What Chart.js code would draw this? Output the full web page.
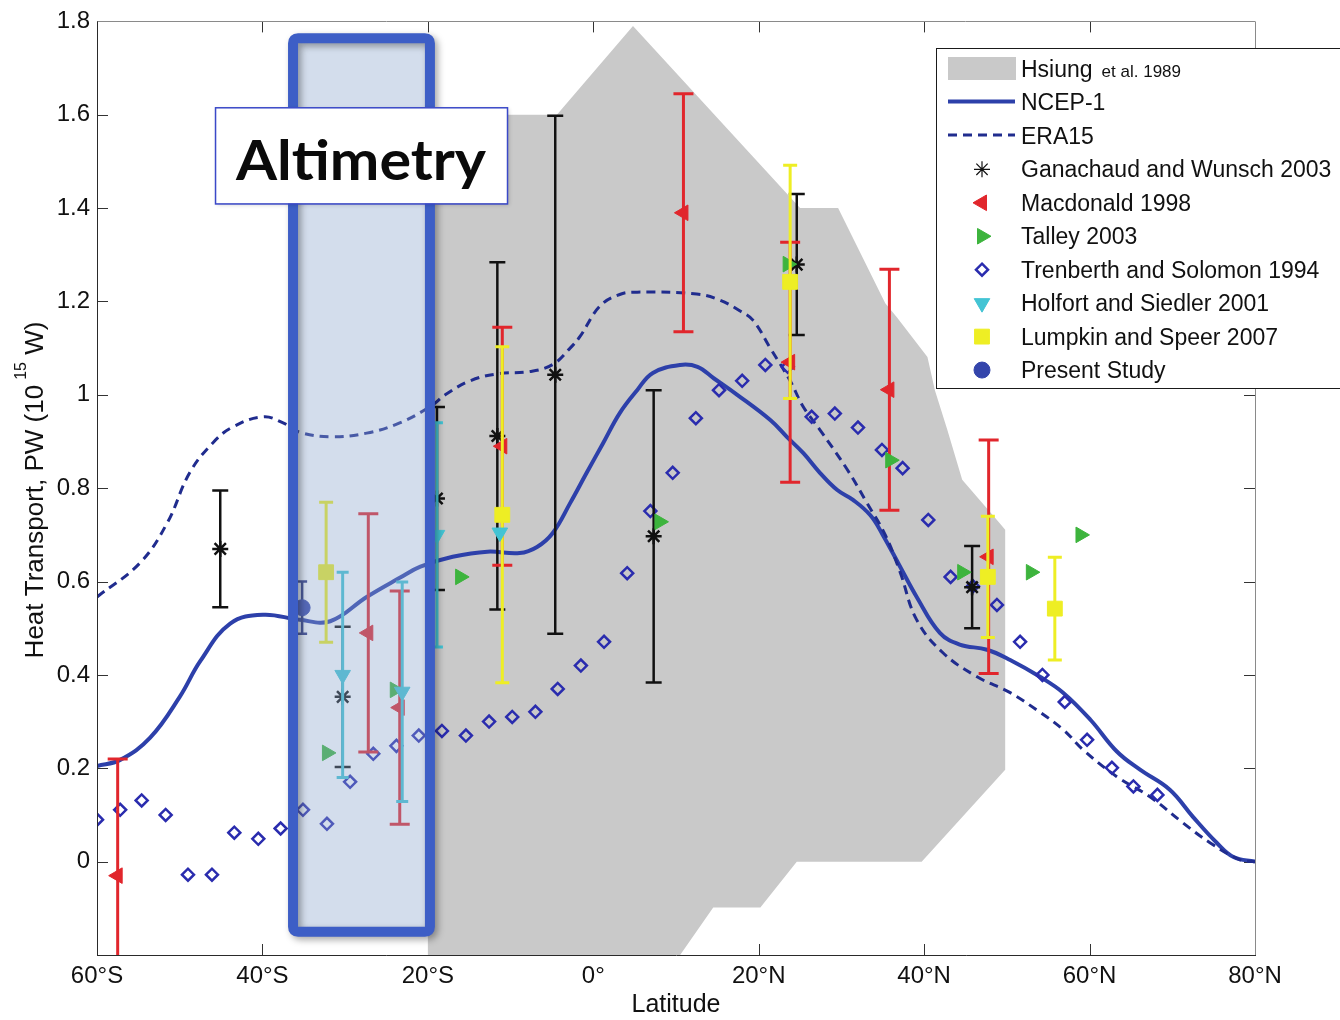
<!DOCTYPE html>
<html lang="en">
<head>
<meta charset="utf-8">
<title>Meridional heat transport</title>
<script src="https://cdn.jsdelivr.net/npm/chart.js@4.4.1/dist/chart.umd.min.js"></script>
<style>
  html, body { margin: 0; padding: 0; background: #ffffff; }
  #wrap { width: 1340px; height: 1020px; }
  canvas { display: block; }
</style>
</head>
<body>
<div id="wrap"><canvas id="heat" width="1340" height="1020"></canvas></div>
<script>
const FONT = '"Liberation Sans", Arial, Helvetica, sans-serif';

// ---- axis ticks ----
const xTickValues = [-60, -40, -20, 0, 20, 40, 60, 80];
const xTickLabels = ['60°S', '40°S', '20°S', '0°', '20°N', '40°N', '60°N', '80°N'];
const yTickValues = [0, 0.2, 0.4, 0.6, 0.8, 1, 1.2, 1.4, 1.6, 1.8];

// ---- Hsiung et al. 1989 envelope (outline, latitude / PW) ----
const hsiungLat = [-20, -20, -4.4, 4.8, 25.0, 29.6, 35.3, 36.7, 40.4, 41.3, 42.8, 44.6, 46.4, 48.8, 49.8, 49.8, 39.7, 24.6, 20.2, 14.5, 10.5];
const hsiungPW  = [-0.2, 1.6, 1.6, 1.79, 1.40, 1.40, 1.196, 1.166, 1.081, 1.01, 0.925, 0.818, 0.781, 0.732, 0.711, 0.197, 0.0, 0.0, -0.098, -0.098, -0.2];

// ---- NCEP-1 ----
const ncepLat = [-60, -57.2, -53.6, -50.0, -47.5, -43.9, -39.9, -35.5, -31.8, -27.4, -23.4, -20.9, -17.0, -12.8, -8.9, -6.8, -4.9, -2.8, -0.8, 1.2, 3.2, 5.3, 7.2, 10.5, 12.6, 14.6, 17.4, 21.4, 23.4, 25.4, 27.4, 29.5, 31.4, 33.5, 35.0, 37.0, 39.1, 41.9, 44.3, 47.6, 50.4, 54.0, 56.8, 60.1, 63.3, 66.1, 69.7, 72.5, 75.4, 77.4, 80];
const ncepPW  = [0.205, 0.218, 0.265, 0.353, 0.43, 0.51, 0.529, 0.518, 0.515, 0.567, 0.608, 0.632, 0.653, 0.664, 0.661, 0.674, 0.704, 0.768, 0.833, 0.897, 0.961, 1.01, 1.047, 1.064, 1.06, 1.035, 1.0, 0.946, 0.91, 0.875, 0.833, 0.796, 0.775, 0.742, 0.70, 0.635, 0.567, 0.49, 0.465, 0.454, 0.432, 0.396, 0.362, 0.304, 0.236, 0.197, 0.154, 0.096, 0.04, 0.01, 0.0];

// ---- ERA15 ----
const eraLat = [-60, -54.8, -51.5, -48.8, -46.0, -43.6, -39.9, -37.5, -35.5, -31.8, -27.4, -23.4, -19.7, -17.9, -14.9, -11.6, -7.6, -4.9, -2.8, -1.6, 0.8, 3.2, 5.3, 12.5, 15.3, 17.7, 19.3, 21.4, 23.8, 25.4, 27.4, 30.7, 33.1, 35.3, 37.1, 39.1, 42.3, 46.4, 50.4, 53.6, 56.8, 59.2, 63.3, 67.3, 71.3, 74.6, 78.2, 80];
const eraPW  = [0.567, 0.64, 0.726, 0.833, 0.897, 0.931, 0.953, 0.94, 0.92, 0.91, 0.918, 0.94, 0.975, 1.0, 1.03, 1.045, 1.05, 1.065, 1.10, 1.125, 1.19, 1.215, 1.22, 1.216, 1.203, 1.18, 1.16, 1.10, 1.03, 0.974, 0.925, 0.84, 0.768, 0.70, 0.62, 0.518, 0.447, 0.396, 0.362, 0.325, 0.283, 0.24, 0.182, 0.139, 0.083, 0.04, 0.004, 0];

// ---- Trenberth and Solomon 1994 ----
const trenberthLat = [-60.0, -57.2, -54.6, -51.7, -49.0, -46.1, -43.4, -40.5, -37.8, -35.1, -32.2, -29.4, -26.6, -23.8, -21.1, -18.3, -15.4, -12.6, -9.8, -7.0, -4.3, -1.5, 1.3, 4.1, 6.9, 9.6, 12.4, 15.2, 18.0, 20.8, 23.5, 26.4, 29.2, 32.0, 34.9, 37.4, 40.5, 43.2, 45.9, 48.8, 51.6, 54.3, 57.0, 59.7, 62.7, 65.3, 68.2];
const trenberthPW  = [0.09, 0.111, 0.131, 0.10, -0.028, -0.028, 0.062, 0.049, 0.071, 0.111, 0.081, 0.171, 0.231, 0.248, 0.27, 0.28, 0.27, 0.30, 0.31, 0.321, 0.37, 0.42, 0.471, 0.618, 0.751, 0.833, 0.95, 1.01, 1.03, 1.064, 1.06, 0.953, 0.96, 0.93, 0.882, 0.843, 0.732, 0.61, 0.59, 0.55, 0.471, 0.40, 0.342, 0.261, 0.201, 0.161, 0.143];

// ---- Ganachaud and Wunsch 2003 (value, ± error) ----
const ganachaudLat = [-45.1, -30.3, -18.9, -11.6, -4.6, 7.3, 24.6, 45.8];
const ganachaudPW  = [0.670, 0.353, 0.778, 0.912, 1.043, 0.697, 1.279, 0.588];
const ganachaudErr = [0.125, 0.150, 0.196, 0.372, 0.555, 0.313, 0.151, 0.088];

// ---- Macdonald 1998 ----
const macdonaldLat = [-57.5, -27.2, -23.4, -11.0, 10.9, 23.8, 35.8, 47.8];
const macdonaldPW  = [-0.03, 0.49, 0.33, 0.89, 1.39, 1.07, 1.011, 0.653];
const macdonaldErr = [0.25, 0.255, 0.25, 0.255, 0.255, 0.257, 0.258, 0.25];

// ---- Talley 2003 ----
const talleyLat = [-32.2, -24.0, -16.1, 8.0, 23.5, 35.9, 44.6, 52.9, 58.9];
const talleyPW  = [0.233, 0.368, 0.61, 0.728, 1.28, 0.86, 0.62, 0.62, 0.70];

// ---- Holfort and Siedler 2001 ----
const holfortLat = [-30.3, -23.1, -18.9, -11.3];
const holfortPW  = [0.40, 0.364, 0.70, 0.705];
const holfortErr = [0.22, 0.235, 0.24, null];

// ---- Lumpkin and Speer 2007 ----
const lumpkinLat = [-32.3, -11.0, 23.8, 47.7, 55.8];
const lumpkinPW  = [0.62, 0.743, 1.242, 0.61, 0.542];
const lumpkinErr = [0.15, 0.36, 0.25, 0.13, 0.11];

// ---- Present Study ----
const presentLat = [-35.2];
const presentPW  = [0.544];
const presentErr = [0.056];

// ---- annotation regions (latitude / PW) ----
const altimetryFrame = { lat0: -36.3, lat1: -19.75, pw0: -0.150, pw1: 1.764 };
const altimetryLabel = { text: 'Altimetry', lat0: -45.73, lat1: -10.43, pw0: 1.41, pw1: 1.616 };

const COLORS = {
  hsiung: '#c9c9c9', ncep: '#2d40aa', era: '#202c8e', trenberth: '#2a2cae',
  ganachaud: '#111111', macdonald: '#e1262c', talley: '#3db43d', holfort: '#43c4d4',
  lumpkin: '#eeee24', present: '#3445ab', presentBar: '#27307f'
};

function pts(lat, pw) { return lat.map((v, i) => ({ x: v, y: pw[i] })); }

const datasets = [
  { label: 'Hsiung et al. 1989', data: pts(hsiungLat, hsiungPW), order: 20,
    showLine: true, fill: 'shape', tension: 0, backgroundColor: COLORS.hsiung, borderColor: COLORS.hsiung,
    borderWidth: 0, pointRadius: 0, legendKind: 'patch' },
  { label: 'NCEP-1', data: pts(ncepLat, ncepPW), order: 19,
    showLine: true, fill: false, tension: 0.4, borderColor: COLORS.ncep,
    borderWidth: 4, pointRadius: 0, legendKind: 'line' },
  { label: 'ERA15', data: pts(eraLat, eraPW), order: 18,
    showLine: true, fill: false, tension: 0.4, borderColor: COLORS.era,
    borderWidth: 3, borderDash: [9, 6], pointRadius: 0, legendKind: 'line' },
  { label: 'Trenberth and Solomon 1994', data: pts(trenberthLat, trenberthPW), order: 17,
    showLine: false, pointStyle: 'rectRot', pointRadius: 6, borderWidth: 2.5,
    borderColor: COLORS.trenberth, backgroundColor: 'rgba(255,255,255,0)' },
  { label: 'Ganachaud and Wunsch 2003', data: pts(ganachaudLat, ganachaudPW), order: 16,
    errorBars: ganachaudErr, capHalf: 8, errorWidth: 2.5, errorColor: COLORS.ganachaud,
    showLine: false, pointStyle: 'star', pointRadius: 8, borderWidth: 2.5,
    borderColor: COLORS.ganachaud, backgroundColor: COLORS.ganachaud, legendBorderWidth: 1.2 },
  { label: 'Macdonald 1998', data: pts(macdonaldLat, macdonaldPW), order: 15,
    errorBars: macdonaldErr, capHalf: 10, errorWidth: 3, errorColor: COLORS.macdonald,
    showLine: false, pointStyle: 'triangle', pointRotation: -90, pointRadius: 9, borderWidth: 1,
    borderColor: COLORS.macdonald, backgroundColor: COLORS.macdonald },
  { label: 'Talley 2003', data: pts(talleyLat, talleyPW), order: 14,
    showLine: false, pointStyle: 'triangle', pointRotation: 90, pointRadius: 9, borderWidth: 1,
    borderColor: COLORS.talley, backgroundColor: COLORS.talley },
  { label: 'Lumpkin and Speer 2007', data: pts(lumpkinLat, lumpkinPW), order: 13,
    errorBars: lumpkinErr, capHalf: 7, errorWidth: 3, errorColor: COLORS.lumpkin,
    showLine: false, pointStyle: 'rect', pointRadius: 10.5, borderWidth: 1,
    borderColor: COLORS.lumpkin, backgroundColor: COLORS.lumpkin },
  { label: 'Holfort and Siedler 2001', data: pts(holfortLat, holfortPW), order: 12,
    errorBars: holfortErr, capHalf: 6, errorWidth: 3, errorColor: COLORS.holfort,
    showLine: false, pointStyle: 'triangle', pointRotation: 180, pointRadius: 9, borderWidth: 1,
    borderColor: COLORS.holfort, backgroundColor: COLORS.holfort },
  { label: 'Present Study', data: pts(presentLat, presentPW), order: 11,
    errorBars: presentErr, capHalf: 5, errorWidth: 2.5, errorColor: COLORS.presentBar,
    showLine: false, pointStyle: 'circle', pointRadius: 8, borderWidth: 1,
    borderColor: COLORS.present, backgroundColor: COLORS.present }
];

const legendOrder = ['Hsiung et al. 1989', 'NCEP-1', 'ERA15', 'Ganachaud and Wunsch 2003', 'Macdonald 1998',
  'Talley 2003', 'Trenberth and Solomon 1994', 'Holfort and Siedler 2001', 'Lumpkin and Speer 2007', 'Present Study'];

// ---- drawing helpers ----
function drawMarker(ctx, style, x, y, r, rot, fill, stroke, lw) {
  ctx.save();
  ctx.translate(x, y);
  ctx.rotate((rot || 0) * Math.PI / 180);
  ctx.beginPath();
  if (style === 'triangle') {
    for (let k = 0; k < 3; k++) {
      const a = k * 2 * Math.PI / 3;
      const px = Math.sin(a) * r, py = -Math.cos(a) * r;
      if (k) ctx.lineTo(px, py); else ctx.moveTo(px, py);
    }
    ctx.closePath();
  } else if (style === 'rectRot') {
    ctx.moveTo(0, -r); ctx.lineTo(r, 0); ctx.lineTo(0, r); ctx.lineTo(-r, 0); ctx.closePath();
  } else if (style === 'rect') {
    const s = r * Math.SQRT1_2; ctx.rect(-s, -s, 2 * s, 2 * s);
  } else if (style === 'circle') {
    ctx.arc(0, 0, r, 0, Math.PI * 2);
  } else if (style === 'star') {
    for (let k = 0; k < 4; k++) {
      const a = k * Math.PI / 4;
      ctx.moveTo(Math.cos(a) * r, Math.sin(a) * r);
      ctx.lineTo(-Math.cos(a) * r, -Math.sin(a) * r);
    }
  }
  if (fill && style !== 'star') { ctx.fillStyle = fill; ctx.fill(); }
  if (stroke && lw) { ctx.strokeStyle = stroke; ctx.lineWidth = lw; ctx.stroke(); }
  ctx.restore();
}

function roundRectPath(ctx, x, y, w, h, r) {
  ctx.beginPath();
  ctx.moveTo(x + r, y);
  ctx.lineTo(x + w - r, y); ctx.quadraticCurveTo(x + w, y, x + w, y + r);
  ctx.lineTo(x + w, y + h - r); ctx.quadraticCurveTo(x + w, y + h, x + w - r, y + h);
  ctx.lineTo(x + r, y + h); ctx.quadraticCurveTo(x, y + h, x, y + h - r);
  ctx.lineTo(x, y + r); ctx.quadraticCurveTo(x, y, x + r, y);
  ctx.closePath();
}

// vertical error bars, drawn just before each dataset's own markers
const errorBarPlugin = {
  id: 'errorBars',
  beforeDatasetDraw(chart, args) {
    const ds = chart.data.datasets[args.index];
    if (!ds.errorBars) return;
    const { ctx, chartArea: a, scales: { x, y } } = chart;
    ctx.save();
    ctx.beginPath(); ctx.rect(a.left, a.top, a.right - a.left, a.bottom - a.top); ctx.clip();
    ctx.strokeStyle = ds.errorColor; ctx.lineWidth = ds.errorWidth; ctx.lineCap = 'butt';
    ds.data.forEach((p, i) => {
      const e = ds.errorBars[i];
      if (e == null) return;
      const px = x.getPixelForValue(p.x);
      const top = y.getPixelForValue(p.y + e), bot = y.getPixelForValue(p.y - e);
      const h = ds.capHalf;
      ctx.beginPath();
      ctx.moveTo(px, top); ctx.lineTo(px, bot);
      ctx.moveTo(px - h, top); ctx.lineTo(px + h, top);
      ctx.moveTo(px - h, bot); ctx.lineTo(px + h, bot);
      ctx.stroke();
    });
    ctx.restore();
  }
};

// axes box, inward tick marks, altimetry annotation, legend and y title
const framePlugin = {
  id: 'frame',
  beforeDatasetsDraw(chart) {
    const { ctx, chartArea: a, scales: { x, y } } = chart;
    const tl = 11;
    ctx.save();
    ctx.strokeStyle = '#333'; ctx.lineWidth = 1;
    ctx.beginPath();
    xTickValues.forEach(v => {
      if (v <= -60 || v >= 80) return;
      const px = Math.round(x.getPixelForValue(v)) + 0.5;
      ctx.moveTo(px, a.bottom); ctx.lineTo(px, a.bottom - tl);
      ctx.moveTo(px, a.top); ctx.lineTo(px, a.top + tl);
    });
    yTickValues.forEach(v => {
      const py = Math.round(y.getPixelForValue(v)) + 0.5;
      ctx.moveTo(a.left, py); ctx.lineTo(a.left + tl, py);
      ctx.moveTo(a.right, py); ctx.lineTo(a.right - tl, py);
    });
    ctx.stroke();
    ctx.restore();
  },
  afterDatasetsDraw(chart) {
    const { ctx, chartArea: a, scales: { x, y } } = chart;
    // axes box
    ctx.save();
    ctx.lineWidth = 1;
    ctx.strokeStyle = '#8a8a8a';
    ctx.beginPath();
    ctx.moveTo(a.left, Math.round(a.top) + 0.5); ctx.lineTo(a.right, Math.round(a.top) + 0.5);
    ctx.moveTo(Math.round(a.right) + 0.5, a.top); ctx.lineTo(Math.round(a.right) + 0.5, a.bottom);
    ctx.stroke();
    ctx.strokeStyle = '#2a2a2a';
    ctx.beginPath();
    ctx.moveTo(Math.round(a.left) + 0.5, a.top); ctx.lineTo(Math.round(a.left) + 0.5, a.bottom + 0.5);
    ctx.moveTo(a.left, Math.round(a.bottom) + 0.5); ctx.lineTo(a.right + 1, Math.round(a.bottom) + 0.5);
    ctx.stroke();
    ctx.restore();

    // altimetry frame
    const fx0 = x.getPixelForValue(altimetryFrame.lat0), fx1 = x.getPixelForValue(altimetryFrame.lat1);
    const fy0 = y.getPixelForValue(altimetryFrame.pw1), fy1 = y.getPixelForValue(altimetryFrame.pw0);
    ctx.save();
    ctx.fillStyle = 'rgba(140,165,205,0.38)';
    ctx.fillRect(fx0, fy0, fx1 - fx0, fy1 - fy0);
    ctx.shadowColor = 'rgba(0,0,0,0.35)';
    ctx.shadowBlur = 7; ctx.shadowOffsetX = 3; ctx.shadowOffsetY = 3;
    ctx.strokeStyle = '#3d5ec6'; ctx.lineWidth = 10; ctx.lineJoin = 'round';
    roundRectPath(ctx, fx0, fy0, fx1 - fx0, fy1 - fy0, 5);
    ctx.stroke();
    ctx.restore();

    // altimetry label
    const lx0 = x.getPixelForValue(altimetryLabel.lat0), lx1 = x.getPixelForValue(altimetryLabel.lat1);
    const ly0 = y.getPixelForValue(altimetryLabel.pw1), ly1 = y.getPixelForValue(altimetryLabel.pw0);
    ctx.save();
    ctx.shadowColor = 'rgba(0,0,0,0.18)'; ctx.shadowBlur = 4; ctx.shadowOffsetX = 2; ctx.shadowOffsetY = 2;
    ctx.fillStyle = '#ffffff';
    ctx.fillRect(lx0, ly0, lx1 - lx0, ly1 - ly0);
    ctx.restore();
    ctx.save();
    ctx.strokeStyle = '#3a48c8'; ctx.lineWidth = 1.5;
    ctx.strokeRect(lx0 + 0.5, ly0 + 0.5, lx1 - lx0, ly1 - ly0);
    ctx.font = 'bold 56px Lato, "Open Sans", sans-serif';
    ctx.fillStyle = '#0a0a0a';
    ctx.textBaseline = 'alphabetic';
    const tw = ctx.measureText(altimetryLabel.text).width;
    const targetW = (lx1 - lx0) * 0.856;
    const sx = targetW / tw;
    ctx.translate((lx0 + lx1) / 2 - targetW / 2, ly0 + (ly1 - ly0) * 0.76);
    ctx.scale(sx, 1);
    ctx.fillText(altimetryLabel.text, 0, 0);
    ctx.restore();
  },
  afterDraw(chart) {
    const { ctx } = chart;
    // y-axis title with superscript
    ctx.save();
    ctx.translate(43, 490);
    ctx.rotate(-Math.PI / 2);
    ctx.fillStyle = '#111';
    ctx.textBaseline = 'alphabetic';
    const mainFont = '26px ' + FONT, supFont = '16px ' + FONT;
    const p1 = 'Heat Transport, PW (10', p2 = '15', p3 = ' W)';
    ctx.font = mainFont; const w1 = ctx.measureText(p1).width; const w3 = ctx.measureText(p3).width;
    ctx.font = supFont; const w2 = ctx.measureText(p2).width;
    const gap = 5;
    let cx = -(w1 + gap + w2 + w3) / 2;
    ctx.font = mainFont; ctx.fillText(p1, cx, 0); cx += w1 + gap;
    ctx.font = supFont; ctx.fillText(p2, cx, -17); cx += w2;
    ctx.font = mainFont; ctx.fillText(p3, cx, 0);
    ctx.restore();

    // legend
    const L = { left: 936, top: 48, bottom: 388, width: 420, sx0: 948, sx1: 1015, mx: 982, tx: 1021, base0: 77, step: 33.45 };
    ctx.save();
    ctx.fillStyle = '#ffffff';
    ctx.fillRect(L.left, L.top, L.width, L.bottom - L.top);
    ctx.strokeStyle = '#1a1a1a'; ctx.lineWidth = 1;
    ctx.strokeRect(L.left + 0.5, L.top + 0.5, L.width, L.bottom - L.top);
    ctx.textBaseline = 'alphabetic';
    ctx.fillStyle = '#111';
    legendOrder.forEach((label, i) => {
      const ds = chart.data.datasets.find(d => d.label === label);
      const base = L.base0 + i * L.step;
      const my = base - 8;
      if (ds.legendKind === 'patch') {
        ctx.fillStyle = ds.backgroundColor;
        ctx.fillRect(L.sx0, base - 20, L.sx1 - L.sx0 + 1, 23);
      } else if (ds.legendKind === 'line') {
        ctx.save();
        ctx.strokeStyle = ds.borderColor; ctx.lineWidth = ds.borderWidth;
        ctx.setLineDash(ds.borderDash || []);
        ctx.beginPath(); ctx.moveTo(L.sx0, my - 1); ctx.lineTo(L.sx1, my - 1); ctx.stroke();
        ctx.restore();
      } else {
        const lw = ds.legendBorderWidth || ds.borderWidth;
        const fill = ds.pointStyle === 'star' ? null : ds.backgroundColor;
        drawMarker(ctx, ds.pointStyle, L.mx, my, ds.pointRadius, ds.pointRotation || 0, fill, ds.borderColor, lw);
      }
      ctx.fillStyle = '#111';
      if (label.startsWith('Hsiung')) {
        ctx.font = '23px ' + FONT;
        ctx.fillText('Hsiung', L.tx, base);
        const hw = ctx.measureText('Hsiung').width;
        ctx.font = '17px ' + FONT;
        ctx.fillText('et al. 1989', L.tx + hw + 9, base);
      } else {
        ctx.font = '23px ' + FONT;
        ctx.fillText(label, L.tx, base);
      }
    });
    ctx.restore();
  }
};

new Chart(document.getElementById('heat'), {
  type: 'line',
  data: { datasets },
  options: {
    responsive: false,
    animation: false,
    events: [],
    devicePixelRatio: 1,
    layout: { padding: { left: 0, right: 85, top: 21, bottom: 0 } },
    plugins: { legend: { display: false }, tooltip: { enabled: false } },
    scales: {
      x: {
        type: 'linear', min: -60, max: 80,
        afterBuildTicks: s => { s.ticks = xTickValues.map(v => ({ value: v })); },
        afterFit: s => { s.height = 65; },
        grid: { display: false, drawTicks: false }, border: { display: false },
        ticks: {
          autoSkip: false, maxRotation: 0, padding: 7, color: '#111',
          font: { family: FONT, size: 24 },
          callback: v => xTickLabels[xTickValues.indexOf(v)]
        },
        title: { display: true, text: 'Latitude', color: '#111', font: { family: FONT, size: 25 }, padding: { top: 0, bottom: 0 } }
      },
      y: {
        type: 'linear', min: -0.2, max: 1.8,
        afterBuildTicks: s => { s.ticks = yTickValues.map(v => ({ value: v })); },
        afterFit: s => { s.width = 97; },
        grid: { display: false, drawTicks: false }, border: { display: false },
        ticks: {
          padding: 7, color: '#111',
          font: { family: FONT, size: 24 },
          callback: v => String(+v.toFixed(1))
        }
      }
    }
  },
  plugins: [errorBarPlugin, framePlugin]
});
</script>
</body>
</html>
